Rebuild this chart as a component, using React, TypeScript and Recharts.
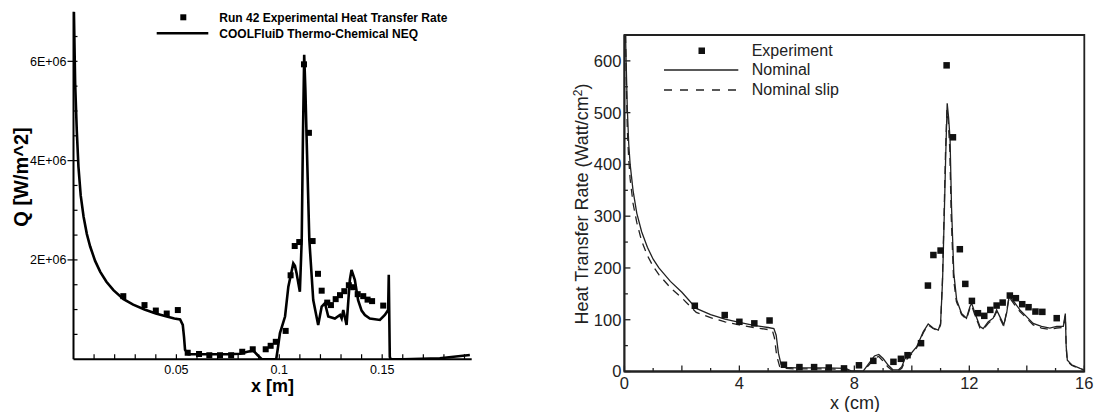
import { ComposedChart, Line, Scatter, XAxis, YAxis, ReferenceArea } from "recharts"

const font = "'Liberation Sans', Arial, Helvetica, sans-serif"

// left panel: x in m, Q in W/m^2
const runX = [0.0242, 0.0345, 0.04, 0.0453, 0.0507, 0.0555, 0.061, 0.066, 0.0712, 0.0766, 0.082, 0.0871, 0.0934, 0.0958, 0.0983, 0.1031, 0.1055, 0.1075, 0.1097, 0.112, 0.1144, 0.1162, 0.1188, 0.1206, 0.1233, 0.1251, 0.1274, 0.1295, 0.1316, 0.1338, 0.1359, 0.1381, 0.1408, 0.1429, 0.1451, 0.1505]
const runQ = [1.27e6, 1.09e6, 0.98e6, 0.92e6, 0.99e6, 0.13e6, 0.105e6, 0.08e6, 0.08e6, 0.08e6, 0.15e6, 0.2e6, 0.2e6, 0.27e6, 0.35e6, 0.57e6, 1.69e6, 2.28e6, 2.36e6, 5.94e6, 4.56e6, 2.38e6, 1.72e6, 1.38e6, 1.14e6, 1.09e6, 1.21e6, 1.29e6, 1.37e6, 1.49e6, 1.45e6, 1.31e6, 1.27e6, 1.2e6, 1.17e6, 1.08e6]

const coolX = [0.0002, 0.0008, 0.0016, 0.0024, 0.0035, 0.0049, 0.0065, 0.0081, 0.0105, 0.013, 0.016, 0.0194, 0.0243, 0.029, 0.0345, 0.04, 0.0453, 0.049, 0.0518, 0.0531, 0.0537, 0.0542, 0.0558, 0.065, 0.075, 0.081, 0.0845, 0.0874, 0.0895, 0.0915, 0.0985, 0.0992, 0.1003, 0.1028, 0.1044, 0.1068, 0.1076, 0.1084, 0.11, 0.1109, 0.1115, 0.1121, 0.1127, 0.1133, 0.1146, 0.1165, 0.1189, 0.1206, 0.1222, 0.1238, 0.127, 0.1295, 0.1303, 0.1311, 0.1327, 0.1343, 0.1351, 0.1367, 0.1383, 0.14, 0.1416, 0.144, 0.1489, 0.1513, 0.1529, 0.1532, 0.1537, 0.1541, 0.16, 0.178, 0.1926]
const coolQ = [7.0e6, 5.56e6, 4.6e6, 3.88e6, 3.3e6, 2.87e6, 2.52e6, 2.27e6, 1.98e6, 1.76e6, 1.56e6, 1.39e6, 1.21e6, 1.1e6, 1.0e6, 0.92e6, 0.86e6, 0.82e6, 0.8e6, 0.69e6, 0.45e6, 0.19e6, 0.1e6, 0.1e6, 0.1e6, 0.11e6, 0.15e6, 0.17e6, 0.08e6, 0, 0, 0.19e6, 0.52e6, 0.86e6, 1.46e6, 1.93e6, 1.88e6, 1.73e6, 1.36e6, 2.4e6, 4.5e6, 6.13e6, 5.4e6, 4.42e6, 2.4e6, 1.19e6, 0.69e6, 1.06e6, 1.13e6, 0.86e6, 0.82e6, 0.89e6, 0.82e6, 0.99e6, 0.69e6, 1.6e6, 1.8e6, 1.6e6, 1.19e6, 0.98e6, 0.89e6, 0.82e6, 0.79e6, 0.89e6, 0.99e6, 1.7e6, 0.05e6, 0, 0, 0.02e6, 0.085e6]

const leftXTicks = [0.01, 0.02, 0.03, 0.04, 0.05, 0.06, 0.07, 0.08, 0.09, 0.1, 0.11, 0.12, 0.13, 0.14, 0.15, 0.16, 0.17, 0.18, 0.19]
const leftXLabels = ["0.05", "0.1", "0.15"]
const leftYTicks = [0.5e6, 1e6, 1.5e6, 2e6, 2.5e6, 3e6, 3.5e6, 4e6, 4.5e6, 5e6, 5.5e6, 6e6, 6.5e6]
const leftYLabels = ["2E+06", "4E+06", "6E+06"]

// right panel: x in cm, heat transfer rate in Watt/cm^2
const expX = [2.45, 3.49, 4.0, 4.52, 5.05, 5.55, 6.09, 6.6, 7.11, 7.64, 8.16, 8.66, 9.36, 9.62, 9.85, 10.32, 10.56, 10.75, 11.0, 11.21, 11.43, 11.67, 11.86, 12.09, 12.3, 12.52, 12.73, 12.95, 13.16, 13.41, 13.62, 13.84, 14.06, 14.3, 14.54, 15.04]
const expQ = [127, 109, 96, 93, 98.5, 13, 8.5, 8.5, 7.7, 6, 12, 20.6, 18.7, 24.5, 31.5, 54.7, 166, 225, 233.6, 591.4, 452.4, 236.2, 169.2, 136.4, 112.6, 107.5, 119, 127.4, 133.2, 146.7, 141.6, 130, 124.2, 115.8, 115.2, 103]

const nomX = [0.04, 0.06, 0.1, 0.15, 0.2, 0.3, 0.43, 0.6, 0.8, 1.0, 1.2, 1.6, 2.0, 2.5, 3.0, 3.5, 4.0, 4.5, 5.0, 5.2, 5.28, 5.36, 5.45, 5.6, 6.0, 7.0, 7.7, 7.9, 8.3, 8.5, 8.7, 8.85, 9.0, 9.18, 9.35, 9.53, 9.65, 9.76, 9.93, 10.17, 10.4, 10.57, 10.74, 10.92, 11.0, 11.07, 11.13, 11.18, 11.23, 11.28, 11.33, 11.38, 11.46, 11.56, 11.73, 11.9, 12.02, 12.08, 12.2, 12.37, 12.48, 12.66, 12.83, 12.95, 13.06, 13.2, 13.3, 13.39, 13.46, 13.59, 13.76, 13.99, 14.22, 14.51, 14.8, 15.04, 15.27, 15.34, 15.37, 15.41, 15.56, 15.85, 16.0]
const nomQ = [650, 600, 510, 440, 400, 350, 306, 270, 240, 217, 200, 174, 153, 122, 110, 101, 95, 89, 85, 83, 70, 35, 14, 8, 7, 7, 6, 1, 0, 15, 30, 33, 25, 12, 3, 3, 9, 25, 32, 48, 77, 92, 84, 80, 93, 177, 306, 420, 518, 490, 448, 319, 190, 138, 112, 103, 125, 132, 112, 87, 83, 96, 103, 119, 106, 90, 113, 148, 141, 132, 119, 106, 93, 87, 84, 87, 87, 112, 48, 22, 13, 6, 3]

const slipX = [0.04, 0.06, 0.1, 0.15, 0.2, 0.3, 0.43, 0.6, 0.8, 1.0, 1.2, 1.6, 2.0, 2.5, 3.0, 3.5, 4.0, 4.5, 5.0, 5.15, 5.22, 5.3, 5.4, 5.55, 6.0, 7.0, 7.7, 7.9, 8.3, 8.5, 8.7, 8.85, 9.0, 9.18, 9.35, 9.53, 9.65, 9.76, 9.93, 10.17, 10.4, 10.57, 10.74, 10.92, 11.0, 11.06, 11.12, 11.17, 11.22, 11.27, 11.32, 11.37, 11.45, 11.55, 11.73, 11.9, 12.02, 12.08, 12.2, 12.37, 12.48, 12.66, 12.83, 12.95, 13.06, 13.2, 13.3, 13.39, 13.46, 13.59, 13.76, 13.99, 14.22, 14.51, 14.8, 15.04, 15.27, 15.34, 15.37, 15.41, 15.56, 15.85, 16.0]
const slipQ = [650, 580, 470, 410, 372, 325, 288, 252, 224, 203, 187, 162, 142, 114, 104, 96, 90, 85, 81, 79, 65, 30, 10, 6, 5, 5, 4, 0, 0, 12, 26, 29, 20, 8, 1, 2, 6, 20, 30, 46, 75, 90, 83, 79, 90, 170, 300, 420, 505, 480, 430, 300, 180, 135, 110, 101, 122, 128, 108, 84, 81, 93, 101, 116, 103, 87, 118, 145, 138, 128, 116, 103, 90, 84, 81, 84, 85, 108, 46, 20, 12, 5, 2]

const rightXTicks = [0, 1, 2, 3, 4, 5, 6, 7, 8, 9, 10, 11, 12, 13, 14, 15, 16]
const rightXLabels = ["0", "4", "8", "12", "16"]
const rightYTicks = [0, 50, 100, 150, 200, 250, 300, 350, 400, 450, 500, 550, 600]
const rightYLabels = ["0", "100", "200", "300", "400", "500", "600"]

const pairs = (xs: number[], qs: number[]) => xs.map((x, i) => ({ x, q: qs[i] }))

const runData = pairs(runX, runQ)
const coolData = pairs(coolX, coolQ)
const expData = pairs(expX, expQ)
const nomData = pairs(nomX, nomQ)
const slipData = pairs(slipX, slipQ)

const sciLabel = (v: number) => `${Math.round(v / 1e6)}E+06`

function LeftXTick({ x, y, payload }: any) {
  const label = String(+payload.value.toFixed(2))
  const major = leftXLabels.includes(label)
  return (
    <g>
      <line x1={x} x2={x} y1={y} y2={y - 5} stroke="#000" strokeWidth={1.2} />
      {major && (
        <text x={x} y={y + 14.5} textAnchor="middle" fontSize={12.5} fontFamily={font} fill="#000">
          {label}
        </text>
      )}
    </g>
  )
}

function LeftYTick({ x, y, payload }: any) {
  const label = sciLabel(payload.value)
  const major = leftYLabels.includes(label) && payload.value % 2e6 === 0
  return (
    <g>
      <line x1={major ? x - 6 : x} x2={x + 4} y1={y} y2={y} stroke="#000" strokeWidth={1.2} />
      {major && (
        <text x={x - 7} y={y + 4.5} textAnchor="end" fontSize={12.5} fontFamily={font} fill="#000">
          {label}
        </text>
      )}
    </g>
  )
}

function RightXTick({ x, y, payload }: any) {
  const label = String(payload.value)
  const long = payload.value % 2 === 0
  return (
    <g>
      <line x1={x} x2={x} y1={y} y2={y - (long ? 6 : 3.5)} stroke="#222" strokeWidth={1.3} />
      {rightXLabels.includes(label) && (
        <text x={x} y={y + 17} textAnchor="middle" fontSize={16.5} fontFamily={font} fill="#222">
          {label}
        </text>
      )}
    </g>
  )
}

function RightYTick({ x, y, payload }: any) {
  const label = String(payload.value)
  const long = payload.value % 100 === 0
  return (
    <g>
      <line x1={x} x2={x + (long ? 6 : 3.5)} y1={y} y2={y} stroke="#222" strokeWidth={1.3} />
      {rightYLabels.includes(label) && (
        <text x={x - 3} y={y + 5.9} textAnchor="end" fontSize={16.5} fontFamily={font} fill="#222">
          {label}
        </text>
      )}
    </g>
  )
}

const square = (size: number, color: string) => (props: any) =>
  <rect x={props.cx - size / 2} y={props.cy - size / 2} width={size} height={size} fill={color} />

export default function App() {
  return (
    <div style={{ position: "absolute", left: 0, top: 0, width: 1096, height: 412, background: "#fff", fontFamily: font }}>
      <div style={{ position: "absolute", left: 0, top: 0 }}>
        <ComposedChart width={480} height={412} margin={{ top: 11.7, right: 8.3, bottom: 0, left: 0 }}>
          <XAxis
            type="number"
            dataKey="x"
            domain={[0, 0.1935]}
            allowDataOverflow
            ticks={leftXTicks}
            interval={0}
            tickSize={0}
            tickMargin={0}
            tickLine={false}
            tick={LeftXTick}
            height={52.8}
            axisLine={{ stroke: "#000", strokeWidth: 2 }}
          />
          <YAxis
            type="number"
            dataKey="q"
            domain={[0, 7e6]}
            allowDataOverflow
            ticks={leftYTicks}
            interval={0}
            tickSize={0}
            tickMargin={0}
            tickLine={false}
            tick={LeftYTick}
            width={73.5}
            axisLine={{ stroke: "#000", strokeWidth: 2 }}
          />
          <Line data={coolData} dataKey="q" type="linear" dot={false} stroke="#000" strokeWidth={2.6} isAnimationActive={false} />
          <Scatter data={runData} dataKey="q" shape={square(6, "#000")} isAnimationActive={false} />
        </ComposedChart>
      </div>

      <div style={{ position: "absolute", left: 540, top: 0 }}>
        <ComposedChart width={556} height={412} margin={{ top: 35, right: 11.7, bottom: 0, left: 0 }}>
          <ReferenceArea x1={0} x2={16} y1={0} y2={650} fill="none" stroke="#222" strokeWidth={1.8} ifOverflow="visible" />
          <XAxis
            type="number"
            dataKey="x"
            domain={[0, 16]}
            allowDataOverflow
            ticks={rightXTicks}
            interval={0}
            tickSize={0}
            tickMargin={0}
            tickLine={false}
            tick={RightXTick}
            height={40.5}
            axisLine={{ stroke: "#222", strokeWidth: 1.8 }}
          />
          <YAxis
            type="number"
            dataKey="q"
            domain={[0, 650]}
            allowDataOverflow
            ticks={rightYTicks}
            interval={0}
            tickSize={0}
            tickMargin={0}
            tickLine={false}
            tick={RightYTick}
            width={84.4}
            axisLine={{ stroke: "#222", strokeWidth: 1.8 }}
          />
          <Line data={slipData} dataKey="q" type="linear" dot={false} stroke="#222" strokeWidth={1.3} strokeDasharray="8 6" isAnimationActive={false} />
          <Line data={nomData} dataKey="q" type="linear" dot={false} stroke="#222" strokeWidth={1.3} isAnimationActive={false} />
          <Scatter data={expData} dataKey="q" shape={square(6.5, "#111")} isAnimationActive={false} />
        </ComposedChart>
      </div>

      <svg width={1096} height={412} style={{ position: "absolute", left: 0, top: 0, pointerEvents: "none" }}>
        {/* left legend and titles */}
        <rect x={180.3} y={14.3} width={6} height={6} fill="#000" />
        <text x={219.3} y={21.6} fontSize={12} fontWeight="bold" fontFamily={font}>Run 42 Experimental Heat Transfer Rate</text>
        <line x1={156.7} x2={208.3} y1={33.3} y2={33.3} stroke="#000" strokeWidth={2.6} />
        <text x={219.3} y={37.6} fontSize={12} fontWeight="bold" fontFamily={font}>COOLFluiD Thermo-Chemical NEQ</text>
        <text x={272.5} y={391.5} textAnchor="middle" fontSize={18} fontWeight="bold" fontFamily={font}>x [m]</text>
        <text transform="translate(28,177) rotate(-90)" textAnchor="middle" fontSize={20} fontWeight="bold" fontFamily={font}>Q [W/m^2]</text>

        {/* right legend and titles */}
        <rect x={698.5} y={47.5} width={6.5} height={6.5} fill="#111" />
        <text x={751.7} y={55.5} fontSize={16} fontFamily={font} fill="#222">Experiment</text>
        <line x1={664} x2={738.3} y1={70} y2={70} stroke="#222" strokeWidth={1.3} />
        <text x={751.7} y={75.3} fontSize={16} fontFamily={font} fill="#222">Nominal</text>
        <line x1={664} x2={738.3} y1={90} y2={90} stroke="#222" strokeWidth={1.3} strokeDasharray="8 8" />
        <text x={751.7} y={95.3} fontSize={16} fontFamily={font} fill="#222">Nominal slip</text>
        <text x={855} y={409} textAnchor="middle" fontSize={18} fontFamily={font} fill="#222">x (cm)</text>
        <text transform="translate(588,204) rotate(-90)" textAnchor="middle" fontSize={18} fontFamily={font} fill="#222">
          Heat Transfer Rate (Watt/cm<tspan dy={-6} fontSize={12}>2</tspan><tspan dy={6}>)</tspan>
        </text>
      </svg>
    </div>
  )
}
